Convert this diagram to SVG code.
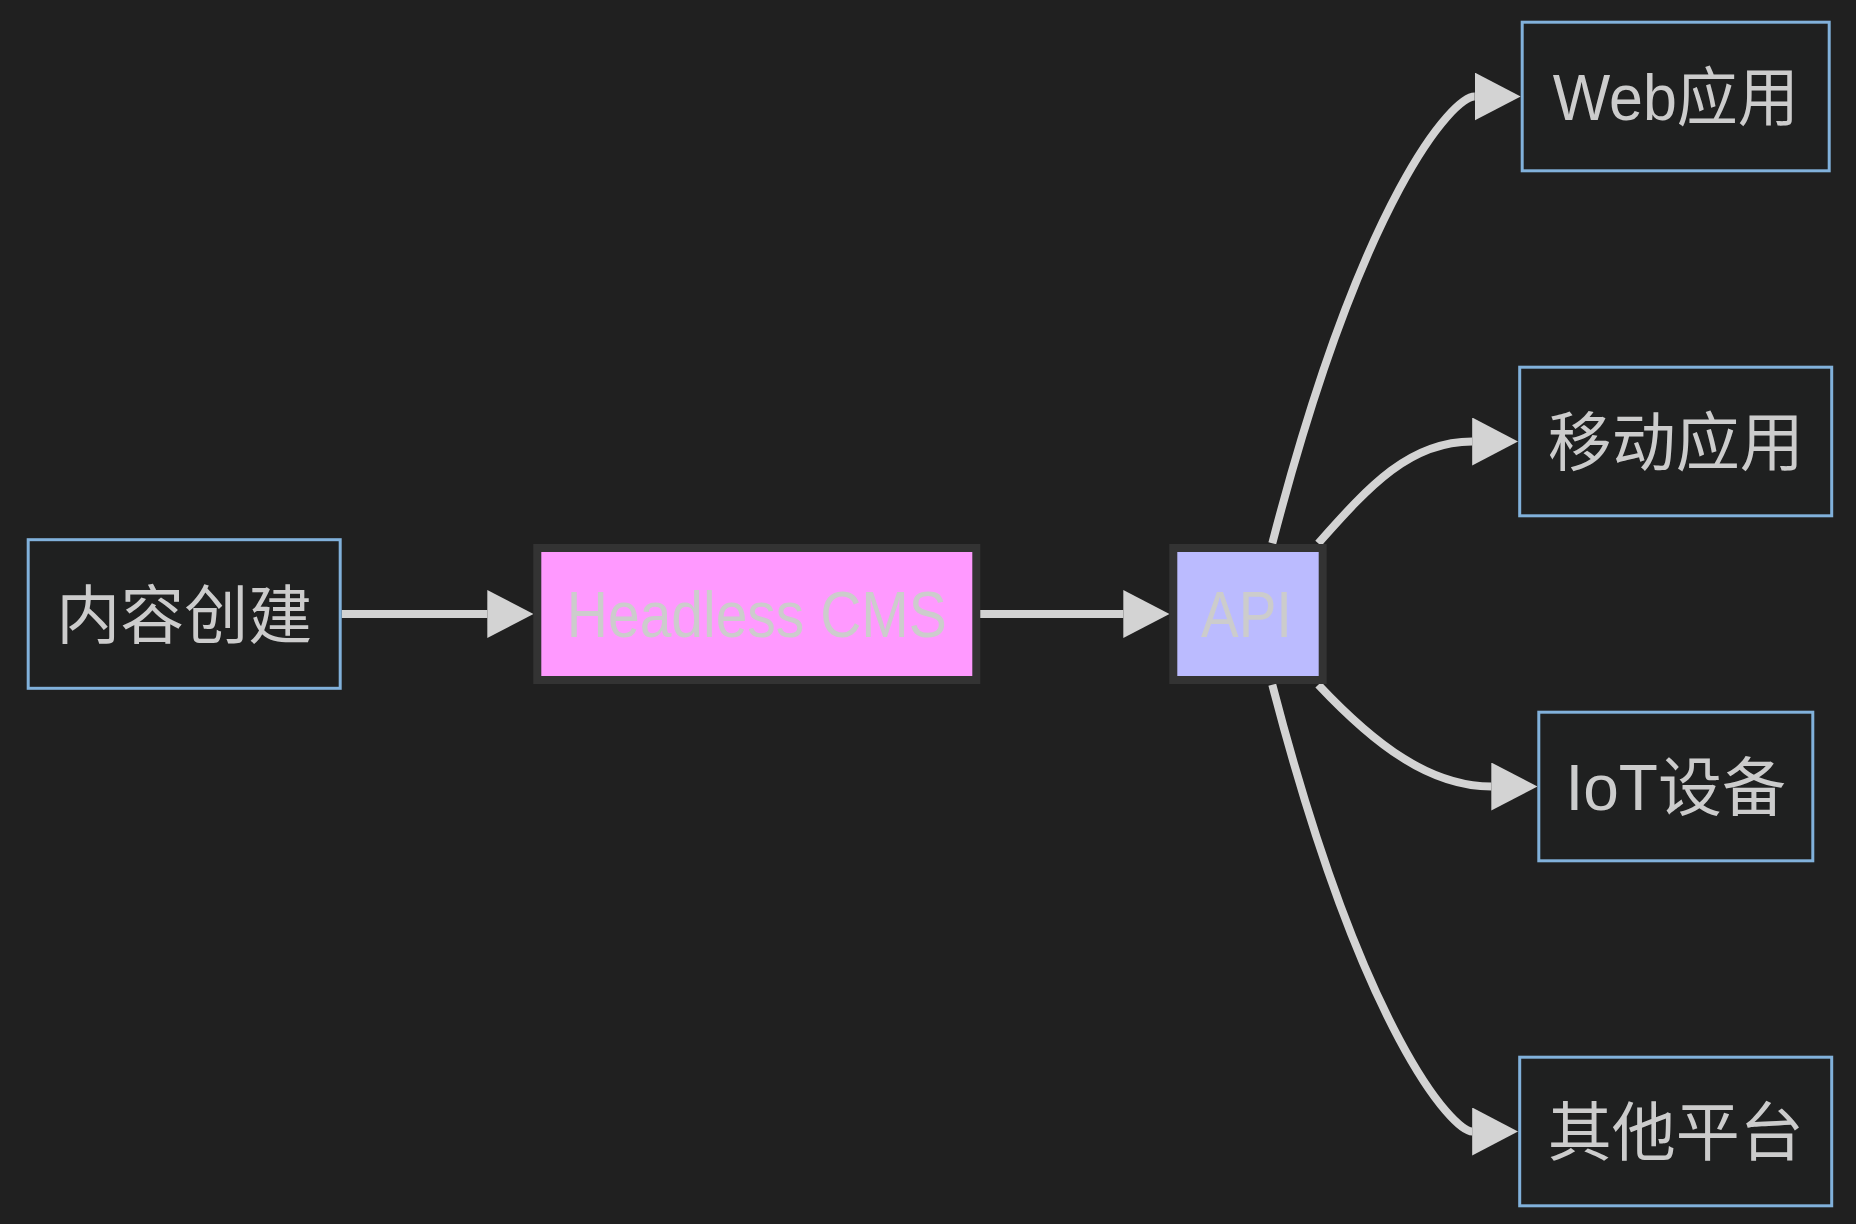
<svg xmlns="http://www.w3.org/2000/svg" width="1856" height="1224" viewBox="0 0 1856 1224">
<style>
  .bg { fill: #202020; }
  .plain rect { fill: #1f2020; stroke: #81b1db; stroke-width: 3; }
  .lbl { font-family: "Liberation Sans", "Noto Sans CJK SC", sans-serif; font-size: 64px; fill: #cccccc; text-anchor: middle; }
  .edge { fill: none; stroke: #d3d3d3; stroke-width: 8; }
</style>
<defs>
  <marker id="arrow" viewBox="0 0 10 10" refX="0" refY="5" markerUnits="userSpaceOnUse" markerWidth="46" markerHeight="48" orient="auto" preserveAspectRatio="none">
    <path d="M0,0 L10,5 L0,10 z" fill="#d3d3d3"/>
  </marker>
</defs>
<rect class="bg" x="0" y="0" width="1856" height="1224"/>

<g id="connectors">
  <path class="edge" d="M341.7,614 L487.3,614" marker-end="url(#arrow)"/>
  <path class="edge" d="M980,614 L1123.3,614" marker-end="url(#arrow)"/>
  <path class="edge" d="M1272.3,543.3 C1363.3,193.3 1453.3,96.5 1474.7,96.5" marker-end="url(#arrow)"/>
  <path class="edge" d="M1318.3,543.3 C1370,485 1410,441.5 1472.2,441.5" marker-end="url(#arrow)"/>
  <path class="edge" d="M1318.3,684.7 C1375,745 1430,786.5 1491.3,786.5" marker-end="url(#arrow)"/>
  <path class="edge" d="M1272.3,684.7 C1363.3,1034.7 1453.3,1131.5 1472.2,1131.5" marker-end="url(#arrow)"/>
</g>

<g id="node-create" class="plain">
  <rect x="28.2" y="539.7" width="312" height="148.6"/>
  <text class="lbl" x="184.2" y="637.5">内容创建</text>
</g>

<g id="node-cms">
  <rect x="537.3" y="548" width="439" height="132" fill="#ff99ff" stroke="#333333" stroke-width="8"/>
  <text class="lbl" x="756.8" y="637.3" textLength="380" lengthAdjust="spacingAndGlyphs">Headless CMS</text>
</g>

<g id="node-api">
  <rect x="1173.3" y="548" width="149.4" height="132" fill="#bbbbff" stroke="#333333" stroke-width="8"/>
  <text class="lbl" x="1246.5" y="637.3" textLength="91" lengthAdjust="spacingAndGlyphs">API</text>
</g>

<g id="node-web" class="plain">
  <rect x="1522.2" y="22.2" width="307" height="148.6"/>
  <text class="lbl" x="1675.7" y="120" textLength="246" lengthAdjust="spacingAndGlyphs">Web应用</text>
</g>

<g id="node-mobile" class="plain">
  <rect x="1519.7" y="367.2" width="312" height="148.6"/>
  <text class="lbl" x="1675.7" y="465">移动应用</text>
</g>

<g id="node-iot" class="plain">
  <rect x="1538.8" y="712.2" width="274" height="148.6"/>
  <text class="lbl" x="1675.7" y="810">IoT设备</text>
</g>

<g id="node-other" class="plain">
  <rect x="1519.7" y="1057.2" width="312" height="148.6"/>
  <text class="lbl" x="1675.7" y="1155">其他平台</text>
</g>
</svg>
